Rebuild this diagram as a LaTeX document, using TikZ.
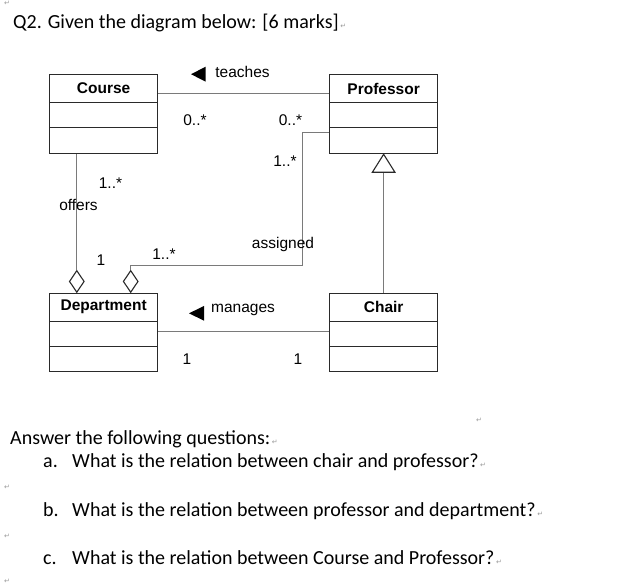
\documentclass[tikz,border=0pt]{standalone}
\usepackage{fontspec}
\setmainfont{Carlito}
\newfontfamily\helv{Liberation Sans}
\newfontfamily\dejavu{DejaVu Sans}
\usetikzlibrary{shapes.geometric}
\definecolor{boxc}{HTML}{2A2A2A}
\definecolor{connc}{HTML}{7A7A7A}
\definecolor{markc}{HTML}{9A9A9A}
\tikzset{
  classbox/.style={draw=boxc, line width=1.3pt, minimum width=108pt, minimum height=79pt, anchor=north west, inner sep=0pt},
  divider/.style={draw=boxc, line width=1.3pt},
  header/.style={font=\helv\bfseries\fontsize{15.5}{18}\selectfont, inner sep=0pt},
  lbl/.style={font=\helv\fontsize{15.5}{18}\selectfont, inner sep=0pt},
  conn/.style={draw=connc, line width=1pt},
  aggdiamond/.style={shape=diamond, draw=boxc, line width=1.1pt, fill=white, minimum width=15pt, minimum height=22pt, inner sep=0pt, anchor=south},
  dirarrow/.style={fill=black, draw=none},
  qtext/.style={font=\fontsize{20}{24}\selectfont, anchor=base west, inner sep=0pt},
  retmark/.style={font=\dejavu\fontsize{7}{8}\selectfont, text=markc, inner sep=0pt, anchor=base west},
}
\begin{document}
\begin{tikzpicture}[x=1pt,y=-1pt]
\useasboundingbox (0,0) rectangle (643,585);
\fill[white] (0,0) rectangle (643,585);

% question text
\node[retmark] (r0) at (4,6) {↵};
\node[qtext] (q2) at (13,29) {Q2. Given the diagram below: [6 marks]};
\node[retmark] (r1) at (q2.base east) {\,↵};

% class boxes
\node[classbox] (course) at (49,74) {};
\node[classbox] (prof) at (329,74) {};
\node[classbox, minimum height=78pt] (dept) at (49,293) {};
\node[classbox, minimum height=78pt] (chair) at (329,293) {};

\foreach \n in {course,prof,dept,chair}{
  \draw[divider] ([yshift=-28.5pt]\n.north west) -- ([yshift=-28.5pt]\n.north east);
  \draw[divider] ([yshift=-53.5pt]\n.north west) -- ([yshift=-53.5pt]\n.north east);
}
\node[header] (courseh) at ([yshift=-14.5pt]course.north) {Course};
\node[header] (profh) at ([yshift=-14.5pt]prof.north) {Professor};
\node[header] (depth) at ([yshift=-14pt]dept.north) {Department};
\node[header] (chairh) at ([yshift=-14pt]chair.north) {Chair};

% teaches
\draw[conn] ([yshift=-20pt]course.north east) -- ([yshift=-20pt]prof.north west);
\fill[dirarrow] (191,74.2) -- (205.7,66.7) -- (205.7,81.7) -- cycle;
\node[lbl] (teaches) at (242.5,72) {teaches};
\node[lbl] (m1) at (195,120) {0..*};
\node[lbl] (m2) at (290.5,120) {0..*};

% aggregation diamonds
\node[aggdiamond] (odia) at (76.8,293) {};
\node[aggdiamond] (adia) at (130.7,293) {};

% offers
\draw[conn] (odia.north) -- (odia.north |- course.south);
\node[lbl] (m3) at (110.5,183) {1..*};
\node[lbl, fill=white, fill opacity=0, text opacity=1] (offers) at (78.5,205) {offers};
\node[lbl] (m4) at (101,260) {1};

% assigned
\coordinate (a1) at (302.7,132.7);
\coordinate (a2) at (302.7,266);
\draw[conn] ([yshift=-58.7pt]prof.north west) -- (a1) -- (a2) -- (a2 -| adia.north) -- (adia.north);
\node[lbl] (m5) at (285,161) {1..*};
\node[lbl] (assigned) at (283,244) {assigned};
\node[lbl] (m6) at (164,254) {1..*};

% manages
\draw[conn] ([yshift=-38.7pt]dept.north east) -- ([yshift=-38.7pt]chair.north west);
\fill[dirarrow] (189,313.3) -- (204,306) -- (204,320.7) -- cycle;
\node[lbl] (manages) at (243,310) {manages};
\node[lbl] (m7) at (187,359) {1};
\node[lbl] (m8) at (298,359) {1};

% generalization
\coordinate (gbase) at ([yshift=-18pt]prof.south);
\draw[conn] (gbase) -- (chair.north);
\draw[draw=boxc, line width=1.1pt, fill=white] (prof.south) -- ([xshift=-11.3pt]gbase) -- ([xshift=11.3pt]gbase) -- cycle;

% answers
\node[retmark] (r2) at (476,423) {↵};
\node[qtext] (ans) at (10,444) {Answer the following questions:};
\node[retmark] (r3) at (ans.base east) {\,↵};
\node[qtext] (qa0) at (43,467) {a.};
\node[qtext] (qa) at (72,467) {What is the relation between chair and professor?};
\node[retmark] (r4) at (qa.base east) {\,↵};
\node[retmark] (r5) at (4,489) {↵};
\node[qtext] (qb0) at (43,516) {b.};
\node[qtext] (qb) at (72,516) {What is the relation between professor and department?};
\node[retmark] (r6) at (qb.base east) {\,↵};
\node[retmark] (r7) at (4,538) {↵};
\node[qtext] (qc0) at (43,564) {c.};
\node[qtext] (qc) at (72,564) {What is the relation between Course and Professor?};
\node[retmark] (r8) at (qc.base east) {\,↵};
\node[retmark] (r9) at (4,583) {↵};
\end{tikzpicture}
\end{document}
